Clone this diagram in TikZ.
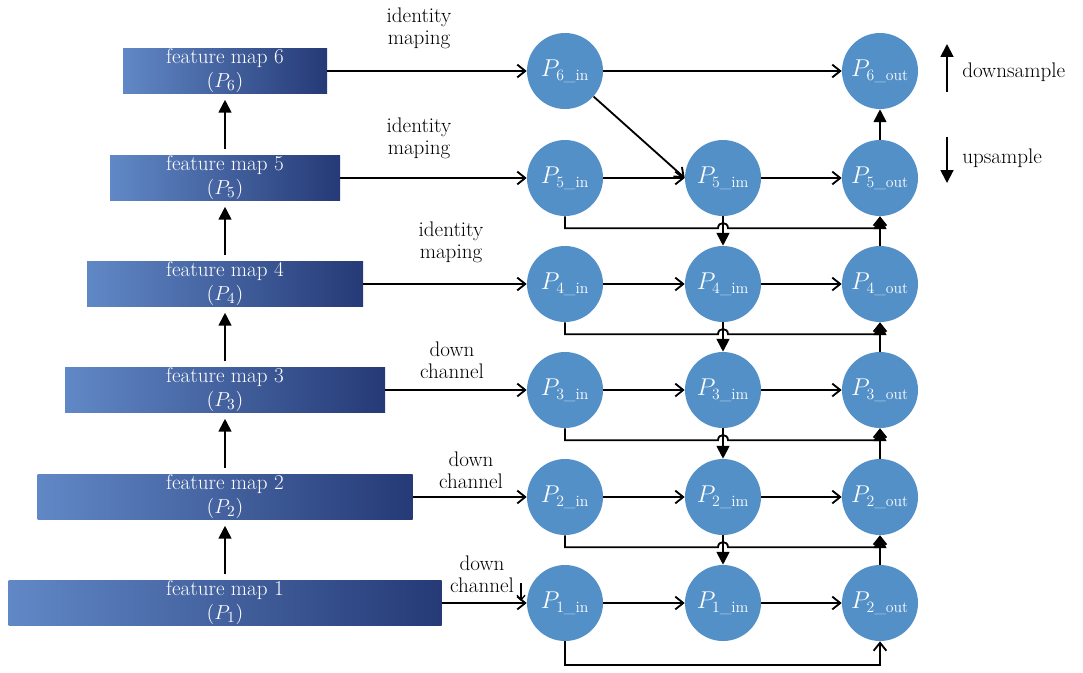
\documentclass[tikz,border=0pt]{standalone}
\usepackage{amsmath}
\usetikzlibrary{arrows.meta,calc}
\definecolor{circ}{HTML}{5390C7}
\definecolor{boxl}{HTML}{6188C6}
\definecolor{boxr}{HTML}{253A76}
\begin{document}
\begin{tikzpicture}[x=0.025cm,y=-0.025cm,
  fm/.style={rectangle,inner sep=0pt,minimum height=45*0.025cm,left color=boxl,right color=boxr,draw=none,
    text=white,align=center,font=\fontsize{15}{17}\selectfont},
  cnode/.style={circle,fill=circ,minimum size=76*0.025cm,inner sep=0pt,text=white,font=\fontsize{16}{18}\selectfont},
  lab/.style={align=center,font=\fontsize{15}{15.5}\selectfont,inner sep=0pt},
  open/.style={line width=1.3pt,-{Straight Barb[length=2mm,width=3.2mm,line width=1.3pt]}},
  filled/.style={line width=1.3pt,-{Triangle[length=3.2mm,width=3.2mm]}}]
\useasboundingbox (0,0) rectangle (1083,672);
% feature maps
\node[fm,minimum width=204*0.025cm] (fm6) at (225,71) {feature map 6\\$(P_{6})$};
\node[fm,minimum width=230*0.025cm] (fm5) at (225,178) {feature map 5\\$(P_{5})$};
\node[fm,minimum width=276*0.025cm] (fm4) at (225,284) {feature map 4\\$(P_{4})$};
\node[fm,minimum width=320*0.025cm] (fm3) at (225,390) {feature map 3\\$(P_{3})$};
\node[fm,minimum width=375*0.025cm] (fm2) at (225,497) {feature map 2\\$(P_{2})$};
\node[fm,minimum width=433*0.025cm] (fm1) at (225,603) {feature map 1\\$(P_{1})$};
\foreach \a/\b in {1/2,2/3,3/4,4/5,5/6}
  \draw[filled,shorten <=0.15cm,shorten >=0.15cm] (fm\a.north) -- (fm\b.south);
% circles
\foreach \k/\y in {6/71,5/178,4/284,3/390,2/497,1/603}{
  \node[cnode] (in\k) at (565,\y) {$P_{\text{\k\_in}}$};
}
\foreach \k/\y in {5/178,4/284,3/390,2/497,1/603}{
  \node[cnode] (im\k) at (723,\y) {$P_{\text{\k\_im}}$};
}
\foreach \k/\y in {6/71,5/178,4/284,3/390,2/497}{
  \node[cnode] (out\k) at (880,\y) {$P_{\text{\k\_out}}$};
}
\node[cnode] (out1) at (880,603) {$P_{\text{2\_out}}$};
% labels
\node[lab] (l6) at (419,28) {identity\\maping};
\node[lab] (l5) at (419,138) {identity\\maping};
\node[lab] (l4) at (451,242) {identity\\maping};
\node[lab] (l3) at (452,360) {down\\channel};
\node[lab] (l2) at (471,470) {down\\channel};
\node[lab] (l1) at (482,574) {down\\channel};
\coordinate (tk) at (521,583);
\draw[line width=0.9pt,-{Straight Barb[length=1.2mm,width=2mm,line width=0.9pt]}] (tk) -- ++(0,18);
% fm -> in
\foreach \k in {1,...,6}
  \draw[open] (fm\k.east) -- (in\k.west);
% horizontal in -> im -> out
\draw[open] (in6) -- (out6);
\draw[open] (in6) -- (im5.west);
\foreach \k in {1,...,5}{
  \draw[open] (in\k) -- (im\k);
  \draw[open] (im\k) -- (out\k);
}
% vertical im (upsample)
\foreach \a/\b in {5/4,4/3,3/2,2/1}
  \draw[filled] (im\a.south) -- (im\b.north);
% vertical out (downsample)
\foreach \a/\b in {1/2,2/3,3/4,4/5,5/6}
  \draw[filled] (out\a.north) -- (out\b.south);
% bypass with hops
\foreach \k in {2,...,5}{
  \draw[open] (in\k.south) -- ($(in\k.south)+(0,12)$) -- ($(im\k.south)+(-5,12)$)
    .. controls +(0,-7) and +(0,-7) .. ($(im\k.south)+(5,12)$)
    -- ($(out\k.south)+(0,12)$) -- (out\k.south);
}
\draw[open] (in1.south) -- ($(in1.south)+(0,24)$) -- ($(out1.south)+(0,24)$) -- (out1.south);
% legend
\coordinate (du0) at (947,92);
\coordinate (du1) at (947,44);
\coordinate (ud0) at (947,137);
\coordinate (ud1) at (947,183);
\draw[filled] (du0) -- (du1);
\draw[filled] (ud0) -- (ud1);
\node[lab,anchor=west] (dl) at (962,72) {downsample};
\node[lab,anchor=west] (ul) at (962,158) {upsample};
\end{tikzpicture}
\end{document}
